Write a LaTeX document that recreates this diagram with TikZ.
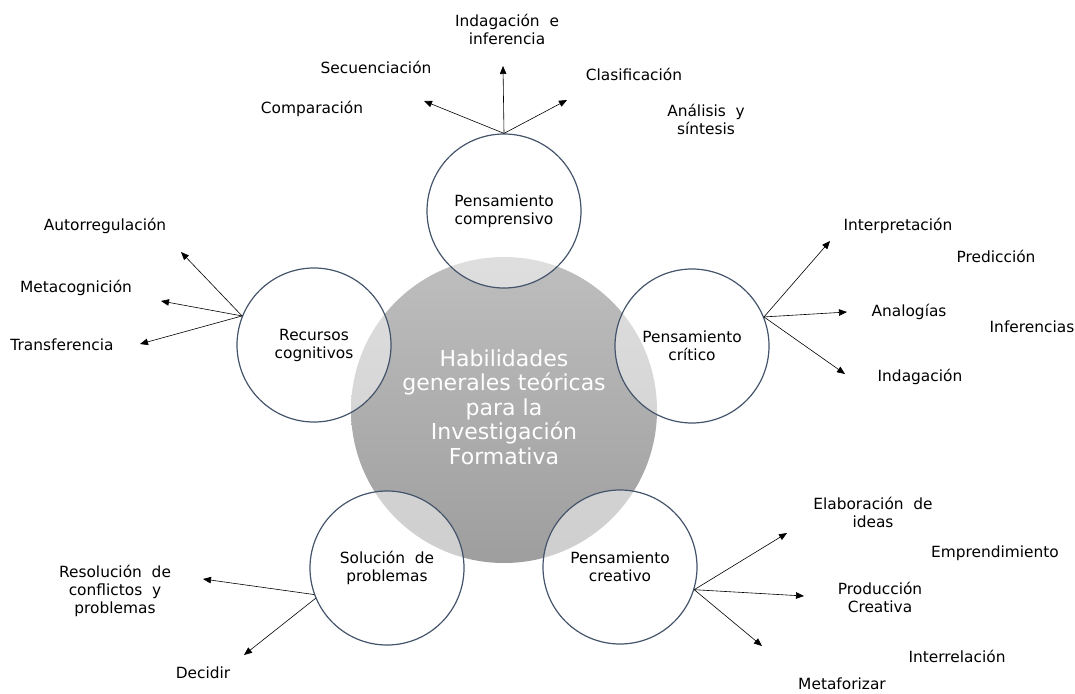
\documentclass[tikz,border=0pt]{standalone}
\usepackage{fontspec}
\setmainfont{DejaVu Sans}
\usetikzlibrary{arrows.meta}

\definecolor{ringblue}{HTML}{44546A}
\definecolor{coretop}{RGB}{190,190,190}
\definecolor{corebot}{RGB}{158,158,158}

\begin{document}
\begin{tikzpicture}[
    x=1pt, y=-1pt,
    core/.style={circle, minimum size=306pt, inner sep=0pt, top color=coretop, bottom color=corebot, text=white, align=center, font=\fontsize{22}{24.5}\selectfont},
    skill/.style={circle, draw=ringblue, line width=1.2pt, fill=white, fill opacity=0.5, text opacity=1, minimum size=154pt, inner sep=0pt, align=center, font=\fontsize{15.4}{18}\selectfont},
    item/.style={align=center, font=\fontsize{15.4}{18}\selectfont},
    arrow/.style={-{Triangle[length=8pt,width=6.5pt]}, line width=0.6pt}
  ]
  \useasboundingbox (0,0) rectangle (1075,693);

  % ---- Centro ----
  \node[core] (core) at (504,410) {};
  \node[text=white, align=center, font=\fontsize{22}{24.5}\selectfont] (coretxt) at (504,407) {Habilidades\\generales teóricas\\para la\\Investigación\\Formativa};

  % ---- Habilidades ----
  \node[skill] (comp) at (504,211) {Pensamiento\\comprensivo};
  \node[skill] (crit) at (692,346) {Pensamiento\\crítico};
  \node[skill] (recu) at (314,345) {Recursos\\cognitivos};
  \node[skill] (solu) at (387,568) {Solución\ \ de\\problemas};
  \node[skill] (crea) at (620,567) {Pensamiento\\creativo};

  % Pensamiento comprensivo
  \node[item] (indinf) at (507,29) {Indagación\ \ e\\inferencia};
  \node[item] (secu) at (376,67) {Secuenciación};
  \node[item] (clas) at (634,74) {Clasificación};
  \node[item] (compa) at (312,109) {Comparación};
  \node[item] (anal) at (706,119) {Análisis\ \ y\\síntesis};
  \coordinate (comp1) at (424,101);
  \coordinate (comp2) at (503,66);
  \coordinate (comp3) at (567,100);
  \draw[arrow] (comp.north) -- (comp1);
  \draw[arrow] (comp.north) -- (comp2);
  \draw[arrow] (comp.north) -- (comp3);

  % Pensamiento critico
  \node[item] (interp) at (898,226) {Interpretación};
  \node[item] (pred) at (996,256) {Predicción};
  \node[item] (analo) at (909,312) {Analogías};
  \node[item] (infer) at (1032,327) {Inferencias};
  \node[item] (indag) at (920,377) {Indagación};
  \coordinate (crit1) at (830,241);
  \coordinate (crit2) at (847,312);
  \coordinate (crit3) at (845,374);
  \draw[arrow] (crit.22) -- (crit1);
  \draw[arrow] (crit.22) -- (crit2);
  \draw[arrow] (crit.22) -- (crit3);

  % Recursos cognitivos
  \node[item] (autor) at (105,226) {Autorregulación};
  \node[item] (meta) at (76,288) {Metacognición};
  \node[item] (trans) at (62,345) {Transferencia};
  \coordinate (recu1) at (181,252);
  \coordinate (recu2) at (161,301);
  \coordinate (recu3) at (140,344);
  \draw[arrow] (recu.158) -- (recu1);
  \draw[arrow] (recu.158) -- (recu2);
  \draw[arrow] (recu.158) -- (recu3);

  % Solucion de problemas
  \node[item] (resol) at (115,591) {Resolución\ \ de\\conflictos\ \ y\\problemas};
  \node[item] (decid) at (203,673) {Decidir};
  \coordinate (solu1) at (203,579);
  \coordinate (solu2) at (244,655);
  \draw[arrow] (solu.200) -- (solu1);
  \draw[arrow] (solu.203) -- (solu2);

  % Pensamiento creativo
  \node[item] (elab) at (873,512) {Elaboración\ \ de\\ideas};
  \node[item] (empr) at (995,553) {Emprendimiento};
  \node[item] (prod) at (880,597) {Producción\\Creativa};
  \node[item] (inter) at (957,656) {Interrelación};
  \node[item] (metaf) at (842,684) {Metaforizar};
  \coordinate (crea1) at (787,533);
  \coordinate (crea2) at (804,596);
  \coordinate (crea3) at (762,646);
  \draw[arrow] (crea.-17) -- (crea1);
  \draw[arrow] (crea.-17) -- (crea2);
  \draw[arrow] (crea.-17) -- (crea3);
\end{tikzpicture}
\end{document}
